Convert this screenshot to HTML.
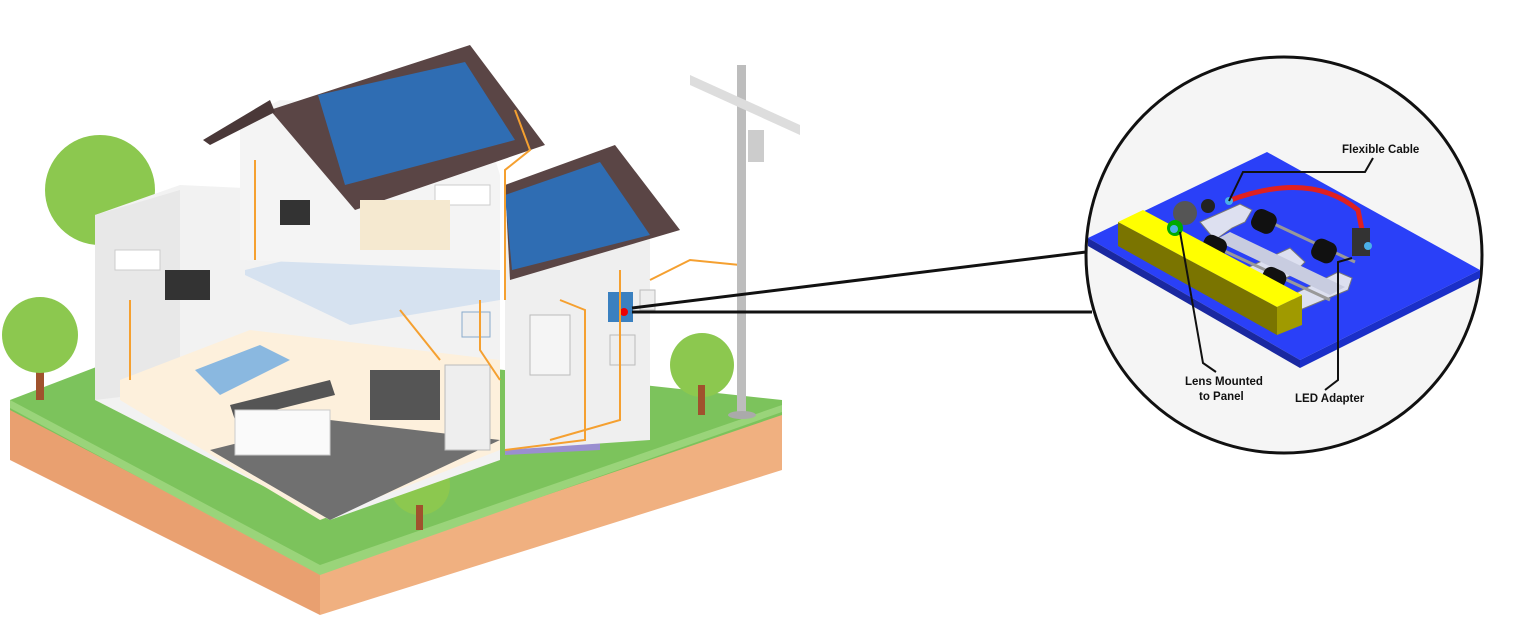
<!DOCTYPE html>
<html><head><meta charset="utf-8"><style>
html,body{margin:0;padding:0;background:#fff;}
svg{display:block;font-family:"Liberation Sans",sans-serif;}
</style></head><body>
<svg width="1536" height="618" viewBox="0 0 1536 618" xmlns="http://www.w3.org/2000/svg">
<polygon points="10,405 320,570 320,615 10,460" fill="#e9a070"/>
<polygon points="320,570 782,412 782,470 320,615" fill="#f0b080"/>
<polygon points="10,400 180,335 782,400 782,415 320,572 10,410" fill="#7cc35c"/>
<polygon points="10,400 320,565 782,405 782,412 320,575 10,408" fill="#9ad47a"/>
<circle cx="100" cy="190" r="55" fill="#8cc84f"/>
<rect x="36" y="360" width="8" height="40" fill="#a0522d"/>
<circle cx="40" cy="335" r="38" fill="#8cc84f"/>
<circle cx="702" cy="365" r="32" fill="#8cc84f"/><rect x="698" y="385" width="7" height="30" fill="#a0522d"/>
<circle cx="420" cy="485" r="30" fill="#8cc84f"/><rect x="416" y="505" width="7" height="25" fill="#a0522d"/>
<polygon points="95,215 180,185 500,200 500,460 330,520 95,400" fill="#f2f2f2"/>
<polygon points="95,215 180,190 180,390 95,400" fill="#e8e8e8"/>
<polygon points="120,380 250,330 500,360 500,450 320,520 120,400" fill="#fdf0dc"/>
<polygon points="210,450 330,420 500,440 330,520" fill="#707070"/>
<polygon points="245,270 330,250 500,270 500,300 350,325 245,275" fill="#d6e2f0"/>
<polygon points="505,350 600,340 600,450 505,455" fill="#9a8fd0"/>
<polygon points="240,120 280,100 480,110 500,175 500,270 240,260" fill="#f4f4f4"/>
<polygon points="505,220 610,200 650,235 650,440 505,450" fill="#efefef"/>
<polygon points="270,110 470,45 545,145 355,210" fill="#5a4545"/>
<polygon points="203,140 270,100 275,112 210,145" fill="#4a3838"/>
<polygon points="318,95 465,62 515,140 345,185" fill="#2f6db3"/>
<polygon points="505,185 615,145 680,230 510,280" fill="#5a4545"/>
<polygon points="505,195 600,162 650,235 512,270" fill="#2f6db3"/>
<rect x="165" y="270" width="45" height="30" fill="#333"/>
<rect x="115" y="250" width="45" height="20" fill="#fff" stroke="#ccc"/>
<rect x="435" y="185" width="55" height="20" fill="#fff" stroke="#ccc"/>
<polygon points="195,370 260,345 290,360 220,395" fill="#8ab8e0"/>
<polygon points="230,405 330,380 335,395 235,420" fill="#555"/>
<rect x="235" y="410" width="95" height="45" fill="#fafafa" stroke="#ccc"/>
<rect x="370" y="370" width="70" height="50" fill="#555"/>
<rect x="445" y="365" width="45" height="85" fill="#eee" stroke="#bbb"/>
<rect x="530" y="315" width="40" height="60" fill="#f5f5f5" stroke="#bbb"/>
<rect x="360" y="200" width="90" height="50" fill="#f5e9d0"/>
<rect x="280" y="200" width="30" height="25" fill="#333"/>
<rect x="608" y="292" width="25" height="30" fill="#3a80c0"/>
<rect x="610" y="335" width="25" height="30" fill="#eee" stroke="#bbb"/>
<circle cx="624" cy="312" r="4" fill="#e00"/>
<rect x="640" y="290" width="15" height="20" fill="#eee" stroke="#bbb"/>
<rect x="462" y="312" width="28" height="25" fill="#eee" stroke="#8ac"/>
<g fill="none" stroke="#f5a030" stroke-width="2">
<path d="M515,110 L530,150 L505,170 L505,300"/>
<path d="M650,280 L690,260 L740,265"/>
<path d="M480,300 L480,350 L500,380"/>
<path d="M560,300 L585,310 L585,440 L505,450"/>
<path d="M255,160 L255,260"/>
<path d="M130,300 L130,380"/>
<path d="M400,310 L440,360"/>
<path d="M620,270 L620,420 L550,440"/>
</g>
<rect x="737" y="65" width="9" height="350" fill="#bdbdbd"/>
<polygon points="690,75 800,125 800,135 690,85" fill="#ddd"/>
<rect x="748" y="130" width="16" height="32" fill="#ccc"/>
<ellipse cx="742" cy="415" rx="14" ry="4" fill="#aaa"/>
<line x1="632" y1="308" x2="1086" y2="252" stroke="#111" stroke-width="3"/>
<line x1="632" y1="312" x2="1092" y2="312" stroke="#111" stroke-width="3"/>
<circle cx="1284" cy="255" r="198" fill="#f5f5f5" stroke="#111" stroke-width="3"/>
<polygon points="1088,238 1267,152 1480,270 1300,360" fill="#2a40f8"/>
<polygon points="1088,238 1300,360 1300,368 1088,246" fill="#1a28a0"/>
<polygon points="1300,360 1480,270 1480,278 1300,368" fill="#1a2fc8"/>
<!-- rails -->
<polygon points="1200,222 1240,204 1252,210 1245,222 1232,228 1215,240" fill="#dde0f0" stroke="#777"/>
<polygon points="1238,272 1290,248 1305,262 1292,275 1262,290" fill="#dde0f0" stroke="#777"/>
<polygon points="1290,296 1338,272 1352,278 1348,290 1300,310" fill="#dde0f0" stroke="#777"/>
<polygon points="1215,240 1230,232 1345,287 1330,295" fill="#c8cce0"/>
<line x1="1218" y1="248" x2="1330" y2="300" stroke="#999" stroke-width="3"/>
<line x1="1255" y1="215" x2="1355" y2="262" stroke="#999" stroke-width="3"/>
<rect x="1252" y="210" width="24" height="22" rx="8" fill="#111" transform="rotate(25 1263 221)"/>
<rect x="1203" y="236" width="24" height="20" rx="8" fill="#111" transform="rotate(25 1214 245)"/>
<rect x="1262" y="268" width="24" height="20" rx="8" fill="#111" transform="rotate(25 1273 278)"/>
<rect x="1312" y="240" width="24" height="22" rx="8" fill="#111" transform="rotate(25 1324 251)"/>
<polygon points="1118,222 1277,307 1277,335 1118,246" fill="#7a7400"/>
<polygon points="1277,307 1302,295 1302,325 1277,335" fill="#a09a00"/>
<polygon points="1118,222 1143,210 1302,295 1277,307" fill="#ffff00"/>
<path d="M1228,201 Q1310,170 1358,210 L1362,230" fill="none" stroke="#e02020" stroke-width="5"/>
<circle cx="1185" cy="213" r="12" fill="#555"/><circle cx="1208" cy="206" r="7" fill="#222"/>
<circle cx="1175" cy="228" r="8" fill="#0a0"/>
<rect x="1352" y="228" width="18" height="28" fill="#333"/>
<circle cx="1174" cy="229" r="4" fill="#4ab0e8"/><circle cx="1229" cy="201" r="4" fill="#4ab0e8"/><circle cx="1368" cy="246" r="4" fill="#4ab0e8"/>
<g fill="none" stroke="#111" stroke-width="2">
<polyline points="1229,201 1243,172 1365,172 1373,158"/>
<polyline points="1180,232 1203,363 1216,372"/>
<polyline points="1352,258 1338,262 1338,380 1325,390"/>
</g>
<g font-weight="bold" font-size="11.5" fill="#111">
<text x="1342" y="153">Flexible Cable</text>
<text x="1185" y="385">Lens Mounted</text>
<text x="1199" y="400">to Panel</text>
<text x="1295" y="402">LED Adapter</text>
</g>
</svg>
</body></html>
